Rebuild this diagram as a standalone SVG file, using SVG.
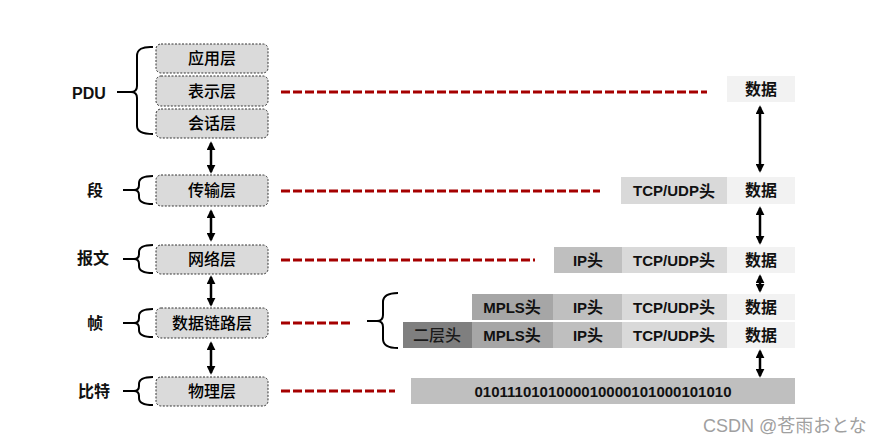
<svg xmlns="http://www.w3.org/2000/svg" width="889" height="445" viewBox="0 0 889 445">
<style>
.bg{fill:#ffffff}
.layer rect{fill:#dadada;stroke:#333;stroke-width:1;stroke-dasharray:2,1.5}
.lt{font-family:"Liberation Sans","Noto Sans CJK SC",sans-serif;font-size:16px;font-weight:500;fill:#000;text-anchor:middle;dominant-baseline:central}
.lbl{font-family:"Liberation Sans","Noto Sans CJK SC",sans-serif;font-size:16px;font-weight:bold;fill:#111;text-anchor:middle;dominant-baseline:central}
.bt{font-family:"Liberation Sans","Noto Sans CJK SC",sans-serif;font-size:15px;font-weight:bold;fill:#111;text-anchor:middle;dominant-baseline:central}
.cj{font-size:16px}
.brace{fill:none;stroke:#000;stroke-width:2}
.red{stroke:#a50000;stroke-width:3;stroke-dasharray:9,3;fill:none}
.arr{stroke:#000;stroke-width:2.5;fill:none;marker-start:url(#ah);marker-end:url(#ah)}
.c1{fill:#f2f2f2}.c2{fill:#d9d9d9}.c3{fill:#bfbfbf}.c4{fill:#a6a6a6}.c5{fill:#7f7f7f}
.wm{font-family:"Liberation Sans","Noto Sans CJK JP",sans-serif;font-size:18px;fill:#a0a0a0}
</style>
<defs>
<marker id="ah" viewBox="0 0 10 10" refX="8" refY="5" markerWidth="9" markerHeight="9" markerUnits="userSpaceOnUse" orient="auto-start-reverse">
<path d="M0,0 L10,5 L0,10 z" fill="#000"/>
</marker>
</defs>
<rect class="bg" x="0" y="0" width="889" height="445"/>

<g id="labels">
<text class="lbl" x="89" y="93">PDU</text>
<text class="lbl" x="95" y="190">段</text>
<text class="lbl" x="93" y="258">报文</text>
<text class="lbl" x="95" y="323">帧</text>
<text class="lbl" x="94" y="391">比特</text>
</g>

<g id="braces">
<path class="brace" d="M153,47 Q137,46 137,56 V86 Q137,92 131,92 H117 M131,92 Q137,92 137,98 V126 Q137,134 153,134"/>
<path class="brace" d="M153,176 Q139,176 139,183 V185 Q139,190 134,190 H123 M134,190 Q139,190 139,195 V197 Q139,204 153,204"/>
<path class="brace" d="M153,245 Q139,245 139,252 V254 Q139,259 134,259 H123 M134,259 Q139,259 139,264 V266 Q139,273 153,273"/>
<path class="brace" d="M153,309 Q139,309 139,316 V318 Q139,323 134,323 H123 M134,323 Q139,323 139,328 V330 Q139,337 153,337"/>
<path class="brace" d="M153,377 Q139,377 139,384 V386 Q139,391 134,391 H123 M134,391 Q139,391 139,396 V398 Q139,405 153,405"/>
<path class="brace" d="M398,293 Q383,293 383,302 V315 Q383,321 377,321 H367 M377,321 Q383,321 383,327 V339 Q383,348 398,348"/>
</g>

<g id="app" class="layer"><rect x="156" y="44" width="112" height="29" rx="5"/><text class="lt" x="212" y="58.5">应用层</text></g>
<g id="pres" class="layer"><rect x="156" y="76" width="112" height="30" rx="5"/><text class="lt" x="212" y="91">表示层</text></g>
<g id="sess" class="layer"><rect x="156" y="109" width="112" height="29" rx="5"/><text class="lt" x="212" y="123.5">会话层</text></g>
<g id="trans" class="layer"><rect x="156" y="175" width="112" height="31" rx="5"/><text class="lt" x="212" y="190.5">传输层</text></g>
<g id="net" class="layer"><rect x="156" y="245" width="112" height="29" rx="5"/><text class="lt" x="212" y="259.5">网络层</text></g>
<g id="link" class="layer"><rect x="156" y="308" width="112" height="30" rx="5"/><text class="lt" x="212" y="323">数据链路层</text></g>
<g id="phys" class="layer"><rect x="156" y="377" width="112" height="29" rx="5"/><text class="lt" x="212" y="391.5">物理层</text></g>

<g id="row1">
<rect class="c1" x="727" y="76" width="68" height="26"/><text class="bt cj" x="761" y="89">数据</text>
</g>
<g id="row2">
<rect class="c2" x="621" y="177" width="106" height="27"/><text class="bt" x="674" y="190.5">TCP/UDP<tspan class="cj">头</tspan></text>
<rect class="c1" x="727" y="177" width="68" height="27"/><text class="bt cj" x="761" y="190.5">数据</text>
</g>
<g id="row3">
<rect class="c3" x="554" y="247" width="68" height="26"/><text class="bt" x="588" y="260">IP<tspan class="cj">头</tspan></text>
<rect class="c2" x="622" y="247" width="105" height="26"/><text class="bt" x="674" y="260">TCP/UDP<tspan class="cj">头</tspan></text>
<rect class="c1" x="727" y="247" width="68" height="26"/><text class="bt cj" x="761" y="260">数据</text>
</g>
<g id="row4a">
<rect class="c4" x="472" y="294" width="81" height="26"/><text class="bt" x="512" y="307">MPLS<tspan class="cj">头</tspan></text>
<rect class="c3" x="553" y="294" width="69" height="26"/><text class="bt" x="588" y="307">IP<tspan class="cj">头</tspan></text>
<rect class="c2" x="622" y="294" width="105" height="26"/><text class="bt" x="674" y="307">TCP/UDP<tspan class="cj">头</tspan></text>
<rect class="c1" x="727" y="294" width="68" height="26"/><text class="bt cj" x="761" y="307">数据</text>
</g>
<g id="row4b">
<rect class="c5" x="403" y="322" width="69" height="26"/><text class="lt" x="437" y="335" style="fill:#1a1a1a">二层头</text>
<rect class="c4" x="472" y="322" width="81" height="26"/><text class="bt" x="512" y="335">MPLS<tspan class="cj">头</tspan></text>
<rect class="c3" x="553" y="322" width="69" height="26"/><text class="bt" x="588" y="335">IP<tspan class="cj">头</tspan></text>
<rect class="c2" x="622" y="322" width="105" height="26"/><text class="bt" x="674" y="335">TCP/UDP<tspan class="cj">头</tspan></text>
<rect class="c1" x="727" y="322" width="68" height="26"/><text class="bt cj" x="761" y="335">数据</text>
</g>
<g id="bits">
<rect class="c3" x="411" y="378" width="384" height="26"/><text class="bt" x="603" y="391">0101110101000010000101000101010</text>
</g>

<g id="connectors">
<line class="red" x1="281" y1="92" x2="707" y2="92"/>
<line class="red" x1="281" y1="191" x2="600" y2="191"/>
<line class="red" x1="281" y1="260" x2="535" y2="260"/>
<line class="red" x1="281" y1="323" x2="353" y2="323"/>
<line class="red" x1="281" y1="391" x2="395" y2="391"/>
<line class="arr" x1="211" y1="143" x2="211" y2="172"/>
<line class="arr" x1="211" y1="211" x2="211" y2="240"/>
<line class="arr" x1="211" y1="277" x2="211" y2="305"/>
<line class="arr" x1="211" y1="343" x2="211" y2="373"/>
<line class="arr" x1="760" y1="107" x2="760" y2="171"/>
<line class="arr" x1="760" y1="208" x2="760" y2="243"/>
<line class="arr" x1="760" y1="276" x2="760" y2="291"/>
<line class="arr" x1="760" y1="351" x2="760" y2="376"/>
</g>

<text class="wm" x="703" y="432">CSDN @苍雨おとな</text>
</svg>
